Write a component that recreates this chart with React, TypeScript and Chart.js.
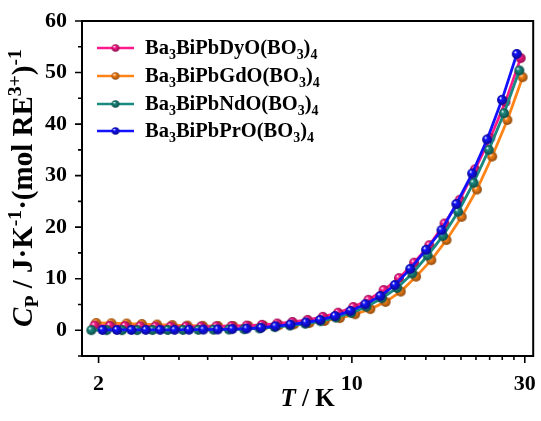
import React, { useEffect, useRef } from 'react';
import { Chart, registerables } from 'chart.js';

Chart.register(...registerables);

// ---- data ----
const seriesLabels = ['Ba3BiPbDyO(BO3)4', 'Ba3BiPbGdO(BO3)4', 'Ba3BiPbNdO(BO3)4', 'Ba3BiPbPrO(BO3)4'];
const seriesColors = ['#FF1A8C', '#FF8418', '#1A8A80', '#1212FF'];

const T_Dy = [1.95, 2.148, 2.366, 2.606, 2.871, 3.162, 3.483, 3.837, 4.226, 4.655, 5.128, 5.649, 6.222, 6.854, 7.549, 8.316, 9.16, 10.09, 11.11, 12.24, 13.49, 14.85, 16.36, 18.02, 19.85, 21.87, 24.09, 26.53, 29.23];
const Cp_Dy = [0.9, 0.85, 0.8, 0.75, 0.72, 0.7, 0.7, 0.7, 0.75, 0.8, 0.9, 1.05, 1.3, 1.6, 2.0, 2.6, 3.4, 4.5, 5.9, 7.8, 10.1, 13.1, 16.5, 20.7, 25.3, 31.2, 37.3, 44.3, 52.8];

const T_Gd = [1.97, 2.17, 2.391, 2.633, 2.901, 3.196, 3.52, 3.878, 4.272, 4.706, 5.184, 5.711, 6.291, 6.93, 7.635, 8.41, 9.265, 10.21, 11.24, 12.39, 13.64, 15.03, 16.56, 18.24, 20.09, 22.13, 24.38, 26.86, 29.59];
const Cp_Gd = [1.4, 1.35, 1.3, 1.2, 1.1, 1.0, 0.9, 0.85, 0.8, 0.8, 0.82, 0.88, 0.98, 1.15, 1.4, 1.8, 2.35, 3.1, 4.1, 5.5, 7.5, 10.4, 13.6, 17.5, 22.0, 27.3, 33.7, 40.8, 49.1];

const T_Nd = [1.91, 2.105, 2.32, 2.556, 2.817, 3.104, 3.421, 3.77, 4.154, 4.578, 5.045, 5.56, 6.127, 6.752, 7.44, 8.199, 9.036, 9.957, 10.97, 12.09, 13.33, 14.68, 16.18, 17.83, 19.65, 21.66, 23.87, 26.3, 28.98];
const Cp_Nd = [0.02, 0.02, 0.02, 0.03, 0.04, 0.05, 0.06, 0.08, 0.1, 0.14, 0.2, 0.35, 0.6, 0.9, 1.25, 1.75, 2.45, 3.35, 4.55, 6.2, 8.2, 11.0, 14.5, 18.3, 23.0, 28.6, 35.0, 42.1, 50.4];

const T_Pr = [2.051, 2.247, 2.464, 2.7, 2.958, 3.242, 3.553, 3.893, 4.266, 4.677, 5.125, 5.614, 6.155, 6.765, 7.465, 8.176, 8.983, 9.913, 10.89, 11.98, 13.14, 14.49, 16.02, 17.67, 19.42, 21.47, 23.61, 25.95, 28.52];
const Cp_Pr = [0.05, 0.05, 0.05, 0.06, 0.07, 0.08, 0.1, 0.12, 0.15, 0.22, 0.32, 0.48, 0.78, 1.1, 1.5, 2.0, 2.75, 3.75, 5.05, 6.64, 8.77, 11.9, 15.6, 19.4, 24.5, 30.4, 37.0, 44.7, 53.6];

const xMajorTicks = [2, 10, 30];
const xMinorTicks = [2.667, 3.333, 4, 4.667, 5.333, 6, 6.667, 7.333, 8, 8.667, 9.333, 12, 14, 16, 18, 20, 22, 24, 26, 28];
const yMajorTicks = [0, 10, 20, 30, 40, 50, 60];
const yMinorTicks = [-5, 5, 15, 25, 35, 45, 55];

const FONT = '"Liberation Serif", "Times New Roman", serif';

type Seg = { t: string; italic?: boolean; pos?: 'sub' | 'sup' };

function shade(hex: string, f: number) {
  const n = parseInt(hex.slice(1), 16);
  const r = Math.round(((n >> 16) & 255) * f);
  const g = Math.round(((n >> 8) & 255) * f);
  const b = Math.round((n & 255) * f);
  return `rgb(${r},${g},${b})`;
}

function makeBall(color: string, r: number) {
  const c = document.createElement('canvas');
  const s = Math.ceil(r * 2 + 2);
  c.width = s;
  c.height = s;
  const g = c.getContext('2d')!;
  const cx = s / 2, cy = s / 2;
  const grad = g.createRadialGradient(cx - r * 0.35, cy - r * 0.4, r * 0.05, cx, cy, r);
  grad.addColorStop(0, '#ffffff');
  grad.addColorStop(0.28, color);
  grad.addColorStop(1, shade(color, 0.55));
  g.fillStyle = grad;
  g.beginPath();
  g.arc(cx, cy, r, 0, Math.PI * 2);
  g.fill();
  return c;
}

function formulaSegs(label: string): Seg[] {
  const segs: Seg[] = [];
  let buf = '';
  for (const ch of label) {
    if (/[0-9]/.test(ch)) {
      if (buf) segs.push({ t: buf });
      buf = '';
      segs.push({ t: ch, pos: 'sub' });
    } else buf += ch;
  }
  if (buf) segs.push({ t: buf });
  return segs;
}

function drawRich(ctx: CanvasRenderingContext2D, segs: Seg[], x: number, y: number, size: number, align: 'left' | 'center') {
  const small = size * 0.68;
  const fontFor = (s: Seg) => `${s.italic ? 'italic ' : ''}bold ${s.pos ? small : size}px ${FONT}`;
  let total = 0;
  const widths = segs.map((s) => {
    ctx.font = fontFor(s);
    const w = ctx.measureText(s.t).width;
    total += w;
    return w;
  });
  let cx = align === 'center' ? x - total / 2 : x;
  ctx.textBaseline = 'alphabetic';
  ctx.textAlign = 'left';
  segs.forEach((s, i) => {
    ctx.font = fontFor(s);
    let dy = 0;
    if (s.pos === 'sub') dy = size * 0.22;
    if (s.pos === 'sup') dy = -size * 0.38;
    ctx.fillText(s.t, cx, y + dy);
    cx += widths[i];
  });
}

const yTitle: Seg[] = [
  { t: 'C', italic: true },
  { t: 'P', pos: 'sub' },
  { t: ' / J·K' },
  { t: '-1', pos: 'sup' },
  { t: '·(mol RE' },
  { t: '3+', pos: 'sup' },
  { t: ')' },
  { t: '-1', pos: 'sup' },
];
const xTitle: Seg[] = [{ t: 'T', italic: true }, { t: ' / K' }];

export default function App() {
  const ref = useRef<HTMLCanvasElement>(null);

  useEffect(() => {
    document.body.style.margin = '0';
    const canvas = ref.current!;
    const balls = seriesColors.map((c) => makeBall(c, 5));
    const legendBall = seriesColors.map((c) => makeBall(c, 3.8));

    const allT = [T_Dy, T_Gd, T_Nd, T_Pr];
    const allCp = [Cp_Dy, Cp_Gd, Cp_Nd, Cp_Pr];
    const drawOrder = [3, 2, 0, 1]; // Pr on top

    const datasets = drawOrder.map((i) => ({
      label: seriesLabels[i],
      data: allT[i].map((t, k) => ({ x: t, y: allCp[i][k] })),
      borderColor: seriesColors[i],
      backgroundColor: seriesColors[i],
      borderWidth: 2.8,
      pointStyle: balls[i] as any,
      pointRadius: 5,
      tension: 0,
    }));

    const framePlugin = {
      id: 'frame',
      afterDraw(chart: any) {
        const ctx: CanvasRenderingContext2D = chart.ctx;
        const { left, right, top, bottom } = chart.chartArea;
        const xs = chart.scales.x;
        const ys = chart.scales.y;
        ctx.save();
        ctx.strokeStyle = '#000';
        ctx.lineWidth = 2;
        ctx.strokeRect(left, top, right - left, bottom - top);
        ctx.lineWidth = 1.6;
        ctx.beginPath();
        xMajorTicks.forEach((v) => {
          const px = xs.getPixelForValue(v);
          ctx.moveTo(px, bottom);
          ctx.lineTo(px, bottom + 7);
        });
        xMinorTicks.forEach((v) => {
          const px = xs.getPixelForValue(v);
          ctx.moveTo(px, bottom);
          ctx.lineTo(px, bottom + 4);
        });
        yMajorTicks.forEach((v) => {
          const py = ys.getPixelForValue(v);
          ctx.moveTo(left, py);
          ctx.lineTo(left - 7, py);
        });
        yMinorTicks.forEach((v) => {
          const py = ys.getPixelForValue(v);
          ctx.moveTo(left, py);
          ctx.lineTo(left - 4, py);
        });
        ctx.stroke();

        ctx.fillStyle = '#000';
        // x title
        drawRich(ctx, xTitle, (left + right) / 2, 406, 25, 'center');
        // y title
        ctx.save();
        ctx.translate(32, 188);
        ctx.rotate(-Math.PI / 2);
        drawRich(ctx, yTitle, 0, 0, 29, 'center');
        ctx.restore();

        // legend
        const rows = [48, 76, 104, 131];
        [0, 1, 2, 3].forEach((i) => {
          const y = rows[i];
          ctx.strokeStyle = seriesColors[i];
          ctx.lineWidth = 2.5;
          ctx.beginPath();
          ctx.moveTo(97, y);
          ctx.lineTo(134, y);
          ctx.stroke();
          const b = legendBall[i];
          ctx.drawImage(b, 115.5 - b.width / 2, y - b.height / 2);
          ctx.fillStyle = '#000';
          drawRich(ctx, formulaSegs(seriesLabels[i]), 145, y + 6, 20.5, 'left');
        });
        ctx.restore();
      },
    };

    const chart = new Chart(canvas, {
      type: 'line',
      data: { datasets },
      options: {
        responsive: false,
        animation: false,
        layout: { padding: { left: 0, top: 21, right: 3.3, bottom: 0 } },
        plugins: { legend: { display: false }, tooltip: { enabled: false } },
        scales: {
          x: {
            type: 'logarithmic',
            min: 1.8,
            max: 31.65,
            grid: { display: false },
            border: { display: false },
            afterBuildTicks: (s: any) => {
              s.ticks = xMajorTicks.map((v) => ({ value: v }));
            },
            afterFit: (s: any) => {
              s.height = 65;
              s.paddingLeft = 0;
              s.paddingRight = 0;
            },
            ticks: {
              autoSkip: false,
              maxRotation: 0,
              padding: 7,
              color: '#000',
              font: { family: FONT, size: 22, weight: 'bold' },
              callback: (v: any) => String(v),
            },
          },
          y: {
            type: 'linear',
            min: -5,
            max: 60,
            grid: { display: false },
            border: { display: false },
            afterBuildTicks: (s: any) => {
              s.ticks = yMajorTicks.map((v) => ({ value: v }));
            },
            afterFit: (s: any) => {
              s.width = 82;
            },
            ticks: {
              padding: 7,
              color: '#000',
              font: { family: FONT, size: 22, weight: 'bold' },
              callback: (v: any) => String(v),
            },
          },
        },
      },
      plugins: [framePlugin],
    });
    return () => chart.destroy();
  }, []);

  return <canvas ref={ref} width={541} height={421} style={{ display: 'block' }} />;
}
